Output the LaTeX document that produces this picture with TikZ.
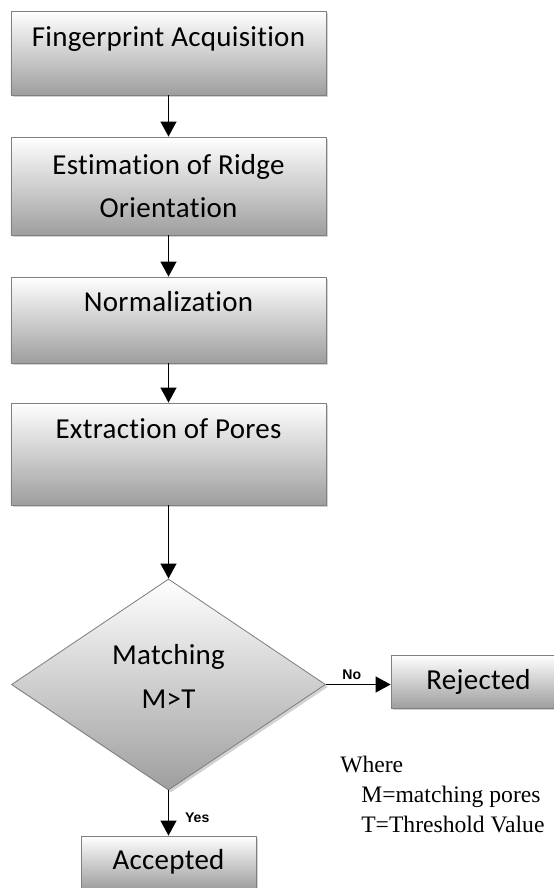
\documentclass[tikz,border=0pt]{standalone}
\usepackage{fontspec}
\setmainfont{Carlito}[Ligatures=NoCommon, LetterSpace=1]
\newfontfamily\notefont{Liberation Serif}
\newfontfamily\tagfont{Liberation Sans}
\usepackage{tikz}
\usetikzlibrary{shapes.geometric, shadows, arrows.meta, positioning}
\tikzset{
    normal/.style={draw=black!50, line width=0.6pt},
    shaded/.style={top color=white, bottom color=black!38, drop shadow={shadow xshift=0.06cm, shadow yshift=-0.06cm, fill=black!35, opacity=0.5}},
    stage/.style={style=normal, style=shaded, rectangle, minimum width=7.875cm, inner sep=0}, % process boxes
    result/.style={style=normal, style=shaded, rectangle, minimum width=4.375cm, minimum height=1.325cm, inner sep=0}, % end boxes
    decision/.style={style=normal, style=shaded, diamond, minimum width=7.85cm, minimum height=5.275cm, inner sep=0},
    txt/.style={font=\fontsize{20.6}{31}\selectfont, align=center, inner sep=0},
    tag/.style={font=\tagfont\bfseries\fontsize{10}{12}\selectfont, inner sep=0},
    note/.style={font=\notefont\fontsize{16.8}{21.3}\selectfont, align=left, inner sep=0},
    e/.style={line width=0.9pt, -{Triangle[length=0.375cm, width=0.4cm]}}
}

\begin{document}
\begin{tikzpicture}
  \useasboundingbox (0,0) rectangle (13.825,22.2);

  \node[stage, minimum height=2.1cm] (acq) at (4.2125, 20.875) {};
  \node[txt, anchor=base] (acq-t) at ([yshift=-0.9cm] acq.north) {Fingerprint Acquisition};
  \node[stage, minimum height=2.45cm] (est) at (4.2125, 17.55) {};
  \node[txt] (est-t) at (est) {Estimation of Ridge\\Orientation};
  \node[stage, minimum height=2.15cm] (norm) at (4.2125, 14.2) {};
  \node[txt, anchor=base] (norm-t) at ([yshift=-0.88cm] norm.north) {Normalization};
  \node[stage, minimum height=2.55cm] (pores) at (4.2125, 10.85) {};
  \node[txt, anchor=base] (pores-t) at ([yshift=-0.9cm] pores.north) {Extraction of Pores};

  \node[decision] (match) at (4.2125, 5.0875) {};
  \node[txt] (match-t) at ([yshift=0.2cm] match.center) {Matching\\M>T};

  \node[result] (rej) at (11.9625, 5.1625) {};
  \node[txt, anchor=base] (rej-t) at ([yshift=-0.88cm] rej.north) {Rejected};
  \node[result] (acc) at (4.2125, 0.6375) {};
  \node[txt, anchor=base] (acc-t) at ([yshift=-0.86cm] acc.north) {Accepted};

  \node[note, anchor=north west] (legend) at (8.5, 3.3)
    {Where\\\hspace*{0.525cm}M=matching pores\\\hspace*{0.525cm}T=Threshold Value};

  \draw[e] (acq) to (est);
  \draw[e] (est) to (norm);
  \draw[e] (norm) to (pores);
  \draw[e] (pores) to (match);
  \draw[e] (match.east) to node[tag, above=0.1cm, pos=0.4] (no) {No} (match.east -| rej.west);
  \draw[e] (match) to node[tag, right=0.4cm, pos=0.6] (yes) {Yes} (acc);
\end{tikzpicture}
\end{document}
